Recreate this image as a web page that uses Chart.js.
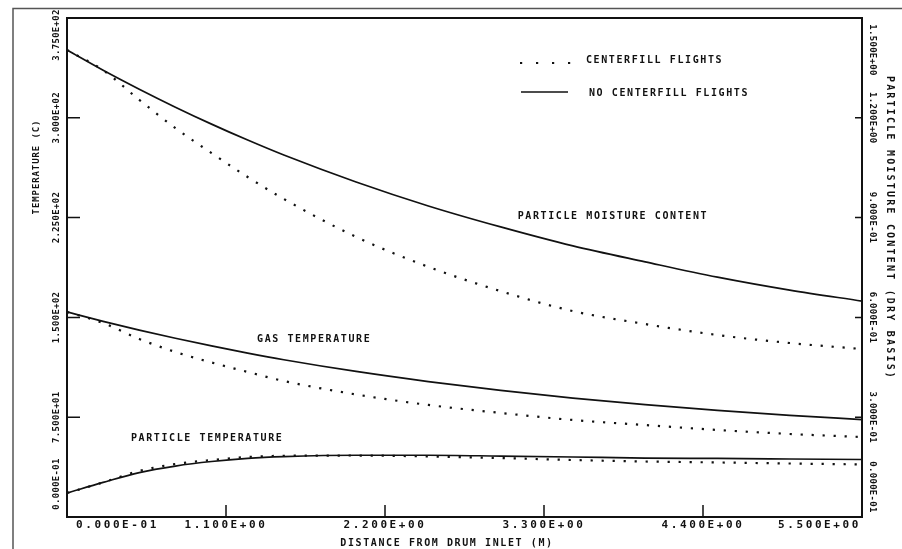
<!DOCTYPE html>
<html>
<head>
<meta charset="utf-8">
<script src="https://cdn.jsdelivr.net/npm/chart.js@4.4.1/dist/chart.umd.min.js"></script>
<style>
html, body { margin: 0; padding: 0; background: #fff; }
canvas { display: block; }
</style>
</head>
<body>
<canvas id="chart" width="902" height="549"></canvas>
<script>
// distance from drum inlet (m)
const distance = [0, 0.25, 0.5, 0.75, 1.0, 1.25, 1.5, 2.0, 2.5, 3.0, 3.5, 4.0, 4.5, 5.0, 5.5];

// particle moisture content, dry basis (right axis)
const moistureNoFlights = [1.404, 1.343, 1.286, 1.232, 1.181, 1.133, 1.088, 1.007, 0.935, 0.872, 0.815, 0.767, 0.721, 0.682, 0.649];
const moistureFlights = [1.404, 1.343, 1.254, 1.169, 1.094, 1.022, 0.956, 0.842, 0.752, 0.679, 0.619, 0.580, 0.547, 0.523, 0.505];

// gas temperature (C)
const gasNoFlights = [154.1, 147.0, 140.4, 134.3, 128.6, 123.2, 118.2, 109.4, 101.8, 95.1, 89.4, 84.4, 80.1, 76.4, 73.2];
const gasFlights = [154.1, 145.8, 133.8, 124.0, 116.1, 109.0, 102.2, 92.1, 84.2, 78.2, 72.9, 69.1, 65.4, 62.4, 60.1];

// particle temperature (C)
const particleNoFlights = [18.0, 26.0, 33.4, 38.3, 41.7, 44.0, 45.3, 46.4, 46.4, 45.8, 45.1, 44.3, 44.0, 43.6, 43.2];
const particleFlights = [18.0, 26.0, 34.6, 39.8, 42.8, 45.1, 46.0, 46.2, 45.5, 44.3, 42.8, 41.7, 41.0, 40.2, 39.5];

// axis ticks and labels
const xTicks = [0, 1.1, 2.2, 3.3, 4.4, 5.5];
const xTickLabels = ["0.000E-01", "1.100E+00", "2.200E+00", "3.300E+00", "4.400E+00", "5.500E+00"];
const leftTicks = [0, 75, 150, 225, 300, 375];
const leftTickLabels = ["0.000E-01", "7.500E+01", "1.500E+02", "2.250E+02", "3.000E+02", "3.750E+02"];
const rightTicks = [0, 0.3, 0.6, 0.9, 1.2, 1.5];
const rightTickLabels = ["0.000E-01", "3.000E-01", "6.000E-01", "9.000E-01", "1.200E+00", "1.500E+00"];

const ink = "#111";
const mono = "'DejaVu Sans Mono', 'Liberation Mono', monospace";

function points(values) {
	return distance.map((x, i) => ({ x: x, y: values[i] }));
}

function solid(values, axis) {
	return {
		data: points(values),
		yAxisID: axis,
		borderColor: ink,
		borderWidth: 1.7,
		pointRadius: 0,
		cubicInterpolationMode: "monotone",
		fill: false
	};
}

function dotted(values, axis) {
	return {
		data: points(values),
		yAxisID: axis,
		borderColor: ink,
		borderWidth: 2.2,
		borderDash: [2.2, 8.8],
		borderCapStyle: "butt",
		pointRadius: 0,
		cubicInterpolationMode: "monotone",
		fill: false
	};
}

function drawText(ctx, text, x, y, angle, size, spacing, align) {
	ctx.save();
	ctx.translate(x, y);
	ctx.rotate(angle);
	ctx.font = "bold " + size + "px " + mono;
	ctx.letterSpacing = spacing + "px";
	ctx.fillStyle = ink;
	ctx.textAlign = align || "center";
	ctx.textBaseline = "middle";
	ctx.fillText(text, 0, 0);
	ctx.restore();
}

function textWidth(ctx, text, size, spacing) {
	ctx.save();
	ctx.font = "bold " + size + "px " + mono;
	ctx.letterSpacing = spacing + "px";
	const w = ctx.measureText(text).width;
	ctx.restore();
	return w;
}

const clamp = (v, lo, hi) => Math.max(lo, Math.min(hi, v));

const plotterPlugin = {
	id: "plotter",
	afterDraw(chart) {
		const ctx = chart.ctx;
		const area = chart.chartArea;
		const xs = chart.scales.x;
		const ys = chart.scales.y;
		const y2 = chart.scales.y2;
		ctx.save();

		// sheet border
		ctx.strokeStyle = "#555";
		ctx.lineWidth = 1.5;
		ctx.beginPath();
		ctx.moveTo(13, chart.height);
		ctx.lineTo(13, 8.5);
		ctx.lineTo(chart.width, 8.5);
		ctx.stroke();

		// plot frame
		ctx.strokeStyle = ink;
		ctx.lineWidth = 2;
		ctx.strokeRect(area.left, area.top, area.right - area.left, area.bottom - area.top);

		// inward tick marks
		ctx.lineWidth = 1.5;
		ctx.beginPath();
		xTicks.slice(1, -1).forEach(v => {
			const p = xs.getPixelForValue(v);
			ctx.moveTo(p, area.bottom);
			ctx.lineTo(p, area.bottom - 12);
		});
		leftTicks.slice(1, -1).forEach(v => {
			const p = ys.getPixelForValue(v);
			ctx.moveTo(area.left, p);
			ctx.lineTo(area.left + 13, p);
		});
		rightTicks.slice(1, -1).forEach(v => {
			const p = y2.getPixelForValue(v);
			ctx.moveTo(area.right, p);
			ctx.lineTo(area.right - 7, p);
		});
		ctx.stroke();

		// x tick labels
		xTicks.forEach((v, i) => {
			const w = textWidth(ctx, xTickLabels[i], 11, 2.6);
			const c = clamp(xs.getPixelForValue(v), area.left + 9 + w / 2, area.right - 1 - w / 2);
			drawText(ctx, xTickLabels[i], c, area.bottom + 8, 0, 11, 2.6);
		});

		// left tick labels, rotated
		leftTicks.forEach((v, i) => {
			const c = clamp(ys.getPixelForValue(v), area.top + 17, area.bottom - 33);
			drawText(ctx, leftTickLabels[i], area.left - 10, c, -Math.PI / 2, 9, 0.3);
		});

		// right tick labels, rotated
		rightTicks.forEach((v, i) => {
			const c = clamp(y2.getPixelForValue(v), area.top + 32, area.bottom - 30);
			drawText(ctx, rightTickLabels[i], area.right + 10, c, Math.PI / 2, 9, 0.3);
		});

		// axis titles
		drawText(ctx, "DISTANCE FROM DRUM INLET (M)", 447, area.bottom + 26, 0, 10, 1.6);
		drawText(ctx, "TEMPERATURE (C)", 37, 167, -Math.PI / 2, 9, 0.9);
		drawText(ctx, "PARTICLE MOISTURE CONTENT (DRY BASIS)", 890, 228, Math.PI / 2, 10, 2.2);

		// curve labels
		drawText(ctx, "PARTICLE MOISTURE CONTENT", xs.getPixelForValue(3.777), y2.getPixelForValue(0.905), 0, 10, 1.6);
		drawText(ctx, "GAS TEMPERATURE", xs.getPixelForValue(1.71), ys.getPixelForValue(133.8), 0, 10, 1.6);
		drawText(ctx, "PARTICLE TEMPERATURE", xs.getPixelForValue(0.97), ys.getPixelForValue(59.4), 0, 10, 1.6);

		// legend
		ctx.strokeStyle = ink;
		ctx.lineWidth = 2.2;
		ctx.setLineDash([2.2, 13.8]);
		ctx.beginPath();
		ctx.moveTo(520, 63);
		ctx.lineTo(571, 63);
		ctx.stroke();
		ctx.setLineDash([]);
		ctx.lineWidth = 1.7;
		ctx.beginPath();
		ctx.moveTo(521, 92);
		ctx.lineTo(568, 92);
		ctx.stroke();
		drawText(ctx, "CENTERFILL FLIGHTS", 586, 60, 0, 10, 1.6, "left");
		drawText(ctx, "NO CENTERFILL FLIGHTS", 589, 93, 0, 10, 1.6, "left");

		ctx.restore();
	}
};

new Chart(document.getElementById("chart"), {
	type: "line",
	data: {
		datasets: [
			solid(moistureNoFlights, "y2"),
			dotted(moistureFlights, "y2"),
			solid(gasNoFlights, "y"),
			dotted(gasFlights, "y"),
			solid(particleNoFlights, "y"),
			dotted(particleFlights, "y")
		]
	},
	options: {
		responsive: false,
		animation: false,
		events: [],
		layout: {
			padding: { left: 67, top: 18, right: 40, bottom: 32 }
		},
		plugins: {
			legend: { display: false },
			tooltip: { enabled: false }
		},
		scales: {
			x: { type: "linear", min: 0, max: 5.5, display: false },
			y: { type: "linear", min: 0, max: 375, display: false },
			y2: { type: "linear", min: 0, max: 1.5, display: false, position: "right" }
		}
	},
	plugins: [plotterPlugin]
});
</script>
</body>
</html>
